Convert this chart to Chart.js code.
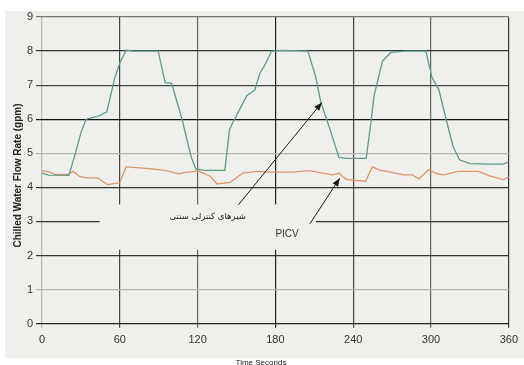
<!DOCTYPE html>
<html>
<head>
<meta charset="utf-8">
<script src="https://cdn.jsdelivr.net/npm/chart.js@4.4.0/dist/chart.umd.min.js"></script>
<style>
html,body{margin:0;padding:0;background:#ffffff;}
#bg{position:absolute;left:5px;top:11px;width:519px;height:347px;background:#efefeb;}
#wrap{position:absolute;left:0;top:0;width:524px;height:365px;}
</style>
</head>
<body>
<div id="bg"></div>
<div id="wrap"><canvas id="c" width="524" height="365"></canvas></div>
<script>
// Conventional control valves (green) – time (s) and flow (gpm)
const conventionalTime = [0, 5, 20.7, 25, 30, 34, 44, 50, 56, 60, 65, 70, 89.6, 95, 100, 108, 115, 118.5, 125, 141, 144.6, 147.7, 158, 164, 168, 172, 177, 185, 205, 211, 215, 221.7, 229, 235, 250, 254, 256, 262.5, 269, 280, 296, 300.7, 306, 312, 317, 322, 330, 345, 355.6, 360];
const conventionalFlow = [4.42, 4.36, 4.35, 4.9, 5.6, 6.0, 6.1, 6.22, 7.2, 7.65, 8.03, 8.0, 8.0, 7.07, 7.05, 6.0, 4.9, 4.55, 4.5, 4.5, 5.7, 5.94, 6.7, 6.85, 7.35, 7.6, 8.0, 8.02, 8.0, 7.26, 6.5, 5.75, 4.88, 4.85, 4.85, 6.0, 6.68, 7.7, 7.96, 8.0, 8.0, 7.23, 6.87, 5.94, 5.2, 4.81, 4.7, 4.68, 4.68, 4.75];

// PICV (orange) – time (s) and flow (gpm)
const picvTime = [0, 6, 10, 20, 24, 29, 34, 43, 45.7, 50.5, 60, 64.8, 75, 82.7, 95, 105.6, 110.7, 118, 119.4, 130, 135, 145, 155, 165.5, 175.8, 193.6, 206, 216.6, 224, 229, 234, 235.7, 249.5, 254.8, 261, 266, 279, 285.5, 290.6, 298, 304.6, 309.7, 321, 336.5, 345, 355.6, 360];
const picvFlow = [4.49, 4.45, 4.38, 4.38, 4.47, 4.32, 4.28, 4.28, 4.2, 4.08, 4.14, 4.6, 4.57, 4.55, 4.5, 4.4, 4.44, 4.47, 4.5, 4.32, 4.1, 4.15, 4.42, 4.47, 4.45, 4.45, 4.49, 4.42, 4.37, 4.42, 4.25, 4.23, 4.18, 4.6, 4.5, 4.47, 4.37, 4.37, 4.25, 4.52, 4.4, 4.37, 4.47, 4.47, 4.34, 4.23, 4.3];

const xTicks = [0, 60, 120, 180, 240, 300, 360];
const yTicks = [0, 1, 2, 3, 4, 5, 6, 7, 8, 9];

const yTitle = 'Chilled Water Flow Rate (gpm)';
const xTitle = 'Time Seconds';
const conventionalLabel = 'شیرهای کنترلی سنتی';
const picvLabel = 'PICV';

const yGridColors = {0:'#222', 1:'#b4b4b0', 2:'#333', 3:'#333', 4:'#333', 5:'#b4b4b0', 6:'#111', 7:'#444', 8:'#333', 9:'#777'};
const xGridColors = {0:'#b8b8b4', 60:'#444', 120:'#666', 180:'#222', 240:'#444', 300:'#666', 360:'#333'};

function pts(xs, ys){ return xs.map((x,i)=>({x:x, y:ys[i]})); }

function arrow(ctx, x1, y1, x2, y2){
  ctx.beginPath();
  ctx.moveTo(x1, y1);
  ctx.lineTo(x2, y2);
  ctx.stroke();
  const a = Math.atan2(y2-y1, x2-x1);
  const L = 8, W = 3.2;
  ctx.beginPath();
  ctx.moveTo(x2, y2);
  ctx.lineTo(x2 - L*Math.cos(a) + W*Math.sin(a), y2 - L*Math.sin(a) - W*Math.cos(a));
  ctx.lineTo(x2 - L*Math.cos(a) - W*Math.sin(a), y2 - L*Math.sin(a) + W*Math.cos(a));
  ctx.closePath();
  ctx.fill();
}

const decor = {
  id: 'decor',
  beforeDatasetsDraw(chart){
    const ctx = chart.ctx, xs = chart.scales.x, ys = chart.scales.y;
    ctx.save();
    ctx.fillStyle = '#efefeb';
    const l = xs.getPixelForValue(44.4), r = xs.getPixelForValue(211.2);
    const t = ys.getPixelForValue(3.5), b = ys.getPixelForValue(2.17);
    ctx.fillRect(l, t, r-l, b-t);
    ctx.restore();
  },
  afterDatasetsDraw(chart){
    const ctx = chart.ctx, xs = chart.scales.x, ys = chart.scales.y;
    const X = v=>xs.getPixelForValue(v), Y = v=>ys.getPixelForValue(v);
    ctx.save();
    ctx.strokeStyle = '#1a1a1a';
    ctx.fillStyle = '#1a1a1a';
    ctx.lineWidth = 1;
    arrow(ctx, X(151.5), Y(3.49), X(215.8), Y(6.49));
    arrow(ctx, X(206.6), Y(2.93), X(229.6), Y(4.27));
    ctx.textAlign = 'center';
    ctx.textBaseline = 'middle';
    ctx.fillStyle = '#222';
    ctx.font = '8.5px "DejaVu Sans"';
    ctx.fillText(conventionalLabel, X(127.8), Y(3.14));
    ctx.font = '10px "Liberation Sans"';
    ctx.fillStyle = '#333';
    ctx.fillText(picvLabel, X(189), Y(2.63));
    ctx.fillStyle = '#222';
    ctx.font = 'bold 10px "Liberation Sans"';
    ctx.save();
    ctx.translate(18, 175.5);
    ctx.rotate(-Math.PI/2);
    ctx.fillText(yTitle, 0, 0);
    ctx.restore();
    ctx.font = '8px "Liberation Sans"';
    ctx.textBaseline = 'top';
    ctx.fillText(xTitle, 261, 359);
    ctx.restore();
  }
};

new Chart(document.getElementById('c'), {
  type: 'line',
  data: {
    datasets: [
      {label: 'Conventional', data: pts(conventionalTime, conventionalFlow), borderColor: '#5a9d8d', borderWidth: 1.3, pointRadius: 0, tension: 0, fill: false},
      {label: 'PICV', data: pts(picvTime, picvFlow), borderColor: '#de9668', borderWidth: 1.3, pointRadius: 0, tension: 0, fill: false}
    ]
  },
  options: {
    responsive: false,
    animation: false,
    events: [],
    layout: {padding: {left: 0, top: 17, right: 12, bottom: 0}},
    plugins: {legend: {display: false}, tooltip: {enabled: false}},
    scales: {
      x: {
        type: 'linear', min: 0, max: 360,
        afterBuildTicks(s){ s.ticks = xTicks.map(v=>({value:v})); },
        afterFit(s){ s.height = 41.3; },
        ticks: {color: '#333', font: {family: 'Liberation Sans', size: 11}, padding: 6, maxRotation: 0, autoSkip: false},
        grid: {color: c => xGridColors[c.tick ? c.tick.value : 0] || '#444', lineWidth: 1.2, tickLength: 4, drawOnChartArea: true},
        border: {display: false}
      },
      y: {
        min: 0, max: 9,
        afterBuildTicks(s){ s.ticks = yTicks.map(v=>({value:v})); },
        afterFit(s){ s.width = 42; },
        ticks: {color: '#333', font: {family: 'Liberation Sans', size: 11}, padding: 3, autoSkip: false},
        grid: {color: c => yGridColors[c.tick ? c.tick.value : 0] || '#444', lineWidth: 1.2, tickLength: 6},
        border: {display: false}
      }
    }
  },
  plugins: [decor]
});
</script>
</body>
</html>
